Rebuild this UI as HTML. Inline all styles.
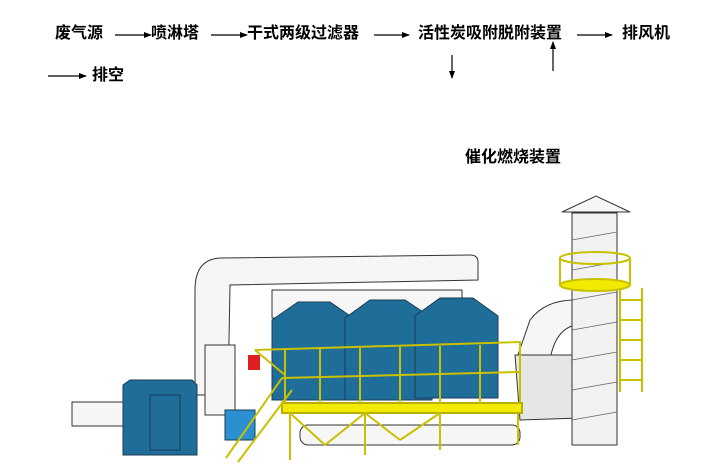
<!DOCTYPE html>
<html><head><meta charset="utf-8"><style>
html,body{margin:0;padding:0;background:#fff;}
body{width:713px;height:476px;position:relative;overflow:hidden;font-family:"Liberation Sans","Noto Sans CJK SC",sans-serif;}
.t{position:absolute;font-size:16px;font-weight:bold;color:#000;line-height:20px;white-space:nowrap;}
svg{position:absolute;left:0;top:0;}
</style></head><body>
<div class="t" style="left:55px;top:24px">废气源</div>
<div class="t" style="left:151px;top:24px">喷淋塔</div>
<div class="t" style="left:247px;top:24px">干式两级过滤器</div>
<div class="t" style="left:418px;top:24px">活性炭吸附脱附装置</div>
<div class="t" style="left:622px;top:24px">排风机</div>
<div class="t" style="left:92px;top:66px">排空</div>
<div class="t" style="left:465px;top:148px">催化燃烧装置</div>
<svg width="713" height="476" viewBox="0 0 713 476">
<defs><marker id="a" markerWidth="8" markerHeight="8" refX="7" refY="4" orient="auto" markerUnits="userSpaceOnUse"><path d="M0,1 L8,4 L0,7z" fill="#000"/></marker></defs>
<g stroke="#000" stroke-width="1.2" marker-end="url(#a)">
<line x1="115" y1="35" x2="151" y2="35"/>
<line x1="211" y1="35" x2="247" y2="35"/>
<line x1="374" y1="35" x2="409" y2="35"/>
<line x1="577" y1="35" x2="612" y2="35"/>
<line x1="48" y1="76" x2="86" y2="76"/>
<line x1="452" y1="55" x2="452" y2="78"/>
<line x1="553" y1="71" x2="553" y2="42"/>
</g>
<g stroke="#333" stroke-width="1" fill="#f6f6f6">
<path d="M195,290 Q195,258 222,258 L470,255 Q478,255 478,262 L478,280 L230,285 L228,395 L195,395 Z"/>
<rect x="272" y="290" width="190" height="28"/>
<rect x="300" y="425" width="220" height="20" rx="8"/>
<rect x="72" y="402" width="54" height="24"/>
<rect x="205" y="345" width="30" height="70"/>
<path d="M518,355 L530,320 Q545,300 575,300 L600,300 L600,322 L575,325 Q555,330 550,360 Z"/>
<path d="M515,355 L575,355 L580,418 L520,420 Z" fill="#e6e6e6"/>
<rect x="572" y="213" width="45" height="232" fill="#f2f2f2"/>
<path d="M562,212 L596,196 L630,212 Z"/>
</g>
<g stroke="#666" stroke-width="0.8">
<line x1="572" y1="240" x2="617" y2="232"/><line x1="572" y1="270" x2="617" y2="262"/>
<line x1="572" y1="300" x2="617" y2="292"/><line x1="572" y1="330" x2="617" y2="322"/>
<line x1="572" y1="360" x2="617" y2="352"/><line x1="572" y1="390" x2="617" y2="382"/>
<line x1="572" y1="420" x2="617" y2="412"/>
</g>
<g stroke="#1b3c55" stroke-width="1" fill="#1f6d99">
<path d="M123,385 L130,380 L192,380 L197,385 L197,455 L123,455Z"/>
<path d="M272,320 L298,302 L330,302 L356,320 L356,400 L272,400Z"/>
<path d="M345,318 L370,300 L405,300 L432,318 L432,400 L345,400Z"/>
<path d="M415,316 L440,298 L473,298 L498,316 L498,398 L415,398Z"/>
<rect x="225" y="410" width="30" height="30" fill="#2a90d0"/>
</g>
<rect x="150" y="395" width="30" height="55" fill="none" stroke="#1b3c55"/>
<rect x="248" y="355" width="12" height="15" fill="#e02020"/>
<g stroke="#c9c000" stroke-width="2" fill="none">
<rect x="282" y="403" width="240" height="10" fill="#f2ea00" stroke="#b8b000"/>
<polyline points="255,350 520,342 520,403"/>
<line x1="282" y1="378" x2="520" y2="372"/>
<line x1="255" y1="350" x2="285" y2="375"/>
<line x1="320" y1="349" x2="320" y2="403"/><line x1="360" y1="348" x2="360" y2="403"/>
<line x1="400" y1="347" x2="400" y2="403"/><line x1="440" y1="346" x2="440" y2="403"/>
<line x1="480" y1="345" x2="480" y2="403"/><line x1="285" y1="350" x2="285" y2="403"/>
<line x1="290" y1="413" x2="290" y2="460"/><line x1="365" y1="413" x2="365" y2="455"/>
<line x1="440" y1="413" x2="440" y2="450"/><line x1="518" y1="413" x2="518" y2="445"/>
<line x1="290" y1="413" x2="325" y2="445"/><line x1="365" y1="413" x2="325" y2="445"/>
<line x1="365" y1="413" x2="400" y2="440"/><line x1="440" y1="413" x2="400" y2="440"/>
<line x1="226" y1="458" x2="282" y2="378"/><line x1="238" y1="462" x2="292" y2="390"/>
<line x1="620" y1="288" x2="620" y2="392"/><line x1="642" y1="288" x2="642" y2="392"/>
<line x1="620" y1="300" x2="642" y2="300"/><line x1="620" y1="320" x2="642" y2="320"/>
<line x1="620" y1="340" x2="642" y2="340"/><line x1="620" y1="360" x2="642" y2="360"/>
<line x1="620" y1="380" x2="642" y2="380"/>
<ellipse cx="595" cy="258" rx="35" ry="6"/>
<ellipse cx="595" cy="285" rx="35" ry="6" fill="#f2ea00"/>
<line x1="560" y1="258" x2="560" y2="285"/><line x1="630" y1="258" x2="630" y2="285"/>
</g>
</svg>
</body></html>
